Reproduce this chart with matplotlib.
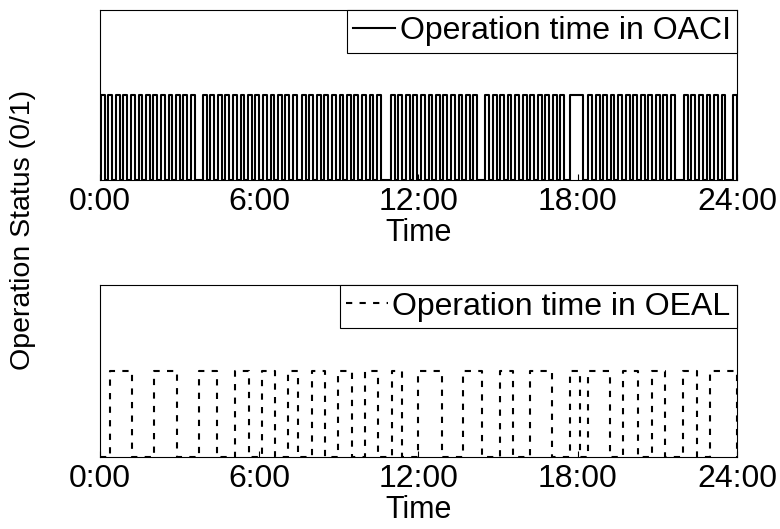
import numpy as np
import matplotlib
matplotlib.use("Agg")
import matplotlib.pyplot as plt

# operating intervals, in hours (switch on, switch off)
oaci_on = [0.04, 0.32, 0.61, 0.89, 1.17, 1.46, 1.74, 2.02, 2.30, 2.59, 2.87, 3.15, 3.44,
           3.88, 4.16, 4.45, 4.73, 5.01, 5.30, 5.58, 5.86, 6.14, 6.43, 6.71, 6.99, 7.28,
           7.61, 7.89, 8.18, 8.46, 8.74, 9.03, 9.31, 9.59, 9.87, 10.16, 10.44,
           10.96, 11.24, 11.53, 11.81, 12.09, 12.38, 12.66, 12.94, 13.22, 13.51, 13.79, 14.07,
           14.51, 14.79, 15.08, 15.36, 15.64, 15.93, 16.21, 16.49, 16.77, 17.06, 17.34,
           17.71,
           18.39, 18.67, 18.96, 19.24, 19.52, 19.81, 20.09, 20.37, 20.65, 20.94, 21.22, 21.50,
           22.00, 22.28, 22.57, 22.85, 23.13, 23.42,
           23.85]
oaci_off = [0.19, 0.47, 0.75, 1.04, 1.32, 1.60, 1.89, 2.17, 2.45, 2.73, 3.02, 3.30, 3.58,
            4.02, 4.31, 4.59, 4.87, 5.16, 5.44, 5.72, 6.01, 6.29, 6.57, 6.86, 7.14, 7.42,
            7.75, 8.04, 8.32, 8.60, 8.89, 9.17, 9.45, 9.74, 10.02, 10.30, 10.59,
            11.10, 11.39, 11.67, 11.95, 12.24, 12.52, 12.80, 13.09, 13.37, 13.65, 13.94, 14.22,
            14.65, 14.94, 15.22, 15.50, 15.79, 16.07, 16.35, 16.64, 16.92, 17.20, 17.49,
            18.20,
            18.53, 18.82, 19.10, 19.38, 19.67, 19.95, 20.23, 20.52, 20.80, 21.08, 21.37, 21.65,
            22.14, 22.43, 22.71, 22.99, 23.28, 23.56,
            24.00]

oeal_on = [0.38, 2.03, 3.73, 5.09, 6.10, 7.08, 7.99, 8.97, 9.98, 11.00, 11.98, 13.68,
           15.07, 16.20, 17.71, 18.39, 19.71, 20.80, 21.97, 22.98]
oeal_off = [1.21, 2.90, 4.41, 5.61, 6.59, 7.46, 8.48, 9.50, 10.47, 11.38, 12.89, 14.39,
            15.56, 17.03, 18.09, 19.22, 20.27, 21.29, 22.49, 24.00]

tick_hours = [0, 6, 12, 18, 24]
tick_labels = ["0:00", "6:00", "12:00", "18:00", "24:00"]


def step_trace(on_times, off_times):
    xs, ys = [0.0], [0.0]
    for t_on, t_off in zip(on_times, off_times):
        xs += [t_on, t_on, t_off, t_off]
        ys += [0, 1, 1, 0]
    if xs[-1] < 24:
        xs.append(24.0)
        ys.append(0)
    return xs, ys


plt.rcParams['font.family'] = ['Liberation Sans', 'DejaVu Sans']
fig = plt.figure(figsize=(7.8, 5.29), dpi=100)

ax1 = fig.add_axes([0.128, 0.660, 0.817, 0.321])
ax2 = fig.add_axes([0.128, 0.136, 0.817, 0.325])

x, y = step_trace(oaci_on, oaci_off)
ax1.plot(x, y, color='black', linewidth=1.5, label='Operation time in OACI')

x, y = step_trace(oeal_on, oeal_off)
ax2.plot(x, y, color='black', linewidth=1.5, linestyle=(0, (3, 3.5)),
         label='Operation time in OEAL')

for ax in (ax1, ax2):
    ax.set_xlim(0, 24)
    ax.set_ylim(0, 2)
    ax.set_yticks([])
    ax.set_xticks(tick_hours)
    ax.set_xticklabels(tick_labels, fontsize=23)
    ax.tick_params(axis='x', direction='in', length=4, pad=5)
    ax.set_xlabel('Time', fontsize=22, labelpad=1)
    for s in ax.spines.values():
        s.set_linewidth(0.8)
    leg = ax.legend(loc='upper right', fontsize=23, frameon=True, fancybox=False,
                    edgecolor='black', handlelength=1.3, handletextpad=0.15,
                    borderpad=0.2, borderaxespad=0.0, framealpha=1)
    leg.get_frame().set_linewidth(0.8)

fig.text(0.03, 0.565, 'Operation Status (0/1)', rotation=90, fontsize=20.5,
         ha='center', va='center')

fig.savefig('out.png', dpi=100)
